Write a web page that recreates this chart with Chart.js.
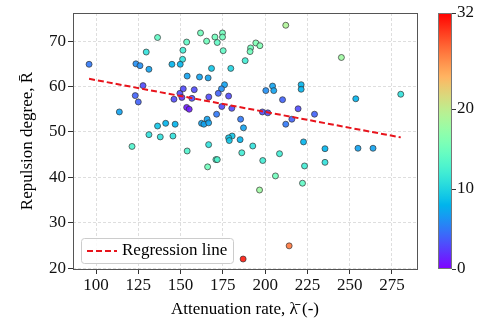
<!DOCTYPE html>
<html><head><meta charset="utf-8">
<script src="https://cdn.jsdelivr.net/npm/chart.js@4.4.1/dist/chart.umd.min.js"></script>
<style>html,body{margin:0;padding:0;background:#fff;}#wrap{width:480px;height:320px;}</style>
</head><body><div id="wrap"><canvas id="c" width="480" height="320"></canvas></div>
<script>
const attenuation = [95.9,136.4,129.7,123.6,126.0,131.3,153.6,151.4,151.2,144.9,149.8,153.9,127.8,123.2,125.0,149.6,151.6,146.1,150.8,113.8,153.6,155.1,212.2,161.8,170.3,174.8,174.8,165.4,171.7,175.2,194.5,196.9,191.4,191.1,188.2,168.3,179.7,161.2,166.3,176.0,174.2,172.3,158.1,166.7,156.7,178.4,200.4,204.4,205.1,210.3,174.4,180.3,219.5,245.1,221.3,221.3,253.6,280.2,136.4,141.2,146.8,131.3,138.0,145.5,121.3,153.9,171.3,165.7,162.4,163.8,166.6,185.5,187.2,180.5,178.4,178.8,185.2,192.7,166.6,186.2,170.9,171.7,166.0,198.6,208.5,206.1,196.7,198.4,201.6,212.2,215.8,229.2,222.7,235.4,254.9,263.8,223.3,235.4,222.1,187.0,214.2];
const repulsion = [64.9,70.8,67.6,65.0,64.6,63.8,69.8,68.0,66.0,64.9,64.9,62.3,60.2,58.0,56.6,58.5,59.5,57.2,57.6,54.4,55.4,55.0,73.5,71.8,70.9,71.8,70.9,70.0,69.7,67.9,69.6,69.0,68.5,67.7,65.7,64.0,64.0,62.1,61.9,60.4,59.5,58.5,59.3,57.7,57.4,57.9,59.1,60.1,59.1,57.1,55.6,55.2,55.1,66.4,60.4,59.4,57.3,58.3,51.3,51.9,51.7,49.4,48.9,49.1,46.8,45.8,53.9,52.8,51.9,51.7,52.0,52.8,50.9,49.1,48.7,48.1,48.3,46.9,47.2,45.4,43.9,43.9,42.3,43.7,45.2,40.3,37.2,54.4,54.2,51.7,52.8,53.9,47.8,46.3,46.4,46.4,42.5,43.3,38.7,22.0,24.9];
const colorValue = [5,14,11,6,6,7,14,12,11,8,8,7,3,4,4,3,3,3,2,7,1,1,19,15,15,15,15,15,14,14,16,16,15,15,12,9,10,7,7,7,6,4,3,3,3,3,6,7,7,4,3,3,3,18,8,8,8,11,9,8,8,11,11,11,13,13,5,7,7,7,7,5,7,9,9,9,8,11,11,12,13,13,15,12,12,15,18,3,3,5,4,4,8,8,7,7,12,11,14,31,27];
const regressionX = [95.9, 280.2];
const regressionY = [61.7, 48.8];
const xTicks = [100,125,150,175,200,225,250,275];
const yTicks = [20,30,40,50,60,70];
const cbTicks = [0,10,20,32];
const cbRange = [0, 32];

function rainbow(v, a){
  let t = (v - cbRange[0])/(cbRange[1]-cbRange[0]);
  t = Math.max(0, Math.min(1, t));
  const r = Math.min(1, Math.abs(2*t-0.5));
  const g = Math.sin(Math.PI*t);
  const b = Math.cos(Math.PI*t/2);
  return 'rgba('+Math.round(r*255)+','+Math.round(g*255)+','+Math.round(b*255)+','+(a==null?1:a)+')';
}

const FONT = "'Liberation Serif','Times New Roman',serif";
Chart.defaults.font.family = FONT;
Chart.defaults.font.size = 17;
Chart.defaults.color = '#000';

const scatterData = attenuation.map((x,i)=>({x:x, y:repulsion[i]}));
const regData = regressionX.map((x,i)=>({x:x, y:regressionY[i]}));

const extras = {
  id:'extras',
  afterDatasetsDraw(chart){
    const ctx = chart.ctx, a = chart.chartArea;
    ctx.save();
    ctx.strokeStyle = '#555'; ctx.lineWidth = 1;
    ctx.strokeRect(Math.round(a.left)+0.5, Math.round(a.top)+0.5, Math.round(a.right-a.left), Math.round(a.bottom-a.top));
    // colorbar
    const cb = chart.scales.cb;
    const x0 = 438, w = 14;
    const yTop = cb.getPixelForValue(cbRange[1]), yBot = cb.getPixelForValue(cbRange[0]);
    const grad = ctx.createLinearGradient(0, yBot, 0, yTop);
    for (let i=0;i<=40;i++){ grad.addColorStop(i/40, rainbow(cbRange[0]+(cbRange[1]-cbRange[0])*i/40)); }
    ctx.fillStyle = grad;
    ctx.fillRect(x0, yTop, w, yBot-yTop);
    ctx.strokeStyle = '#777';
    ctx.strokeRect(x0+0.5, Math.round(yTop)+0.5, w-1, Math.round(yBot-yTop)-1);
    ctx.strokeStyle = '#333';
    cb.ticks.forEach(tk=>{
      const y = Math.round(cb.getPixelForValue(tk.value))+0.5;
      ctx.beginPath(); ctx.moveTo(x0+w, y); ctx.lineTo(x0+w+4, y); ctx.stroke();
    });
    // legend
    const ds = chart.data.datasets[0];
    const lx = 81, ly = 238, lw = 152, lh = 25;
    ctx.beginPath();
    if (ctx.roundRect) ctx.roundRect(lx+0.5, ly+0.5, lw, lh, 3); else ctx.rect(lx+0.5, ly+0.5, lw, lh);
    ctx.fillStyle = 'rgba(255,255,255,0.85)'; ctx.fill();
    ctx.strokeStyle = '#ccc'; ctx.lineWidth = 1; ctx.stroke();
    ctx.strokeStyle = ds.borderColor; ctx.lineWidth = 2; ctx.setLineDash(ds.borderDash);
    ctx.beginPath(); ctx.moveTo(87, 251); ctx.lineTo(117, 251); ctx.stroke();
    ctx.setLineDash([]);
    ctx.fillStyle = '#000'; ctx.font = '17px ' + FONT; ctx.textBaseline = 'middle'; ctx.textAlign = 'left';
    ctx.fillText(ds.label, 122, 251);
    ctx.restore();
  }
};

new Chart(document.getElementById('c'), {
  type:'scatter',
  data:{ datasets:[
    { type:'line', label:'Regression line', data: regData, borderColor:'#e8141c', borderWidth:2, borderDash:[6,3], pointRadius:0, fill:false, order:0, showLine:true },
    { label:'samples', data: scatterData, pointRadius:3, pointHoverRadius:3, borderWidth:0.7, borderColor:'#333',
      backgroundColor: colorValue.map(v=>rainbow(v,0.9)), pointBackgroundColor: colorValue.map(v=>rainbow(v,0.9)), order:1 }
  ]},
  options:{
    responsive:false, animation:false, devicePixelRatio:1,
    layout:{ padding:{top:13, left:0, right:0, bottom:0}, autoPadding:false },
    plugins:{ legend:{display:false}, tooltip:{enabled:false} },
    scales:{
      x:{ type:'linear', min:86.4, max:289.8,
        afterBuildTicks(s){ s.ticks = xTicks.map(v=>({value:v})); },
        afterFit(s){ s.height = 51; },
        grid:{ color:'rgba(0,0,0,0.13)', tickColor:'#333', tickLength:5, tickBorderDash:[] },
        border:{ display:false, dash:[3,2] },
        ticks:{ padding:1, color:'#111', font:{size:17} },
        title:{ display:true, text:'Attenuation rate, λ̄ (-)', padding:{top:0,bottom:0}, font:{size:17} }
      },
      y:{ type:'linear', min:19.8, max:76.2,
        afterBuildTicks(s){ s.ticks = yTicks.map(v=>({value:v})); },
        afterFit(s){ s.width = 73; },
        grid:{ color:'rgba(0,0,0,0.13)', tickColor:'#333', tickLength:5, tickBorderDash:[] },
        border:{ display:false, dash:[3,2] },
        ticks:{ padding:2, color:'#111', font:{size:17} },
        title:{ display:true, text:'Repulsion degree, R̄', padding:{top:17,bottom:0}, font:{size:17} }
      },
      cb:{ type:'linear', position:'right', min:cbRange[0], max:cbRange[1],
        afterBuildTicks(s){ s.ticks = cbTicks.map(v=>({value:v})); },
        afterFit(s){ s.width = 63; },
        grid:{ display:true, drawOnChartArea:false, drawTicks:true, tickLength:38, tickColor:'rgba(0,0,0,0)', color:'rgba(0,0,0,0)' },
        border:{ display:false },
        ticks:{ padding:2, color:'#111', font:{size:17} }
      }
    }
  },
  plugins:[extras]
});
</script></body></html>
